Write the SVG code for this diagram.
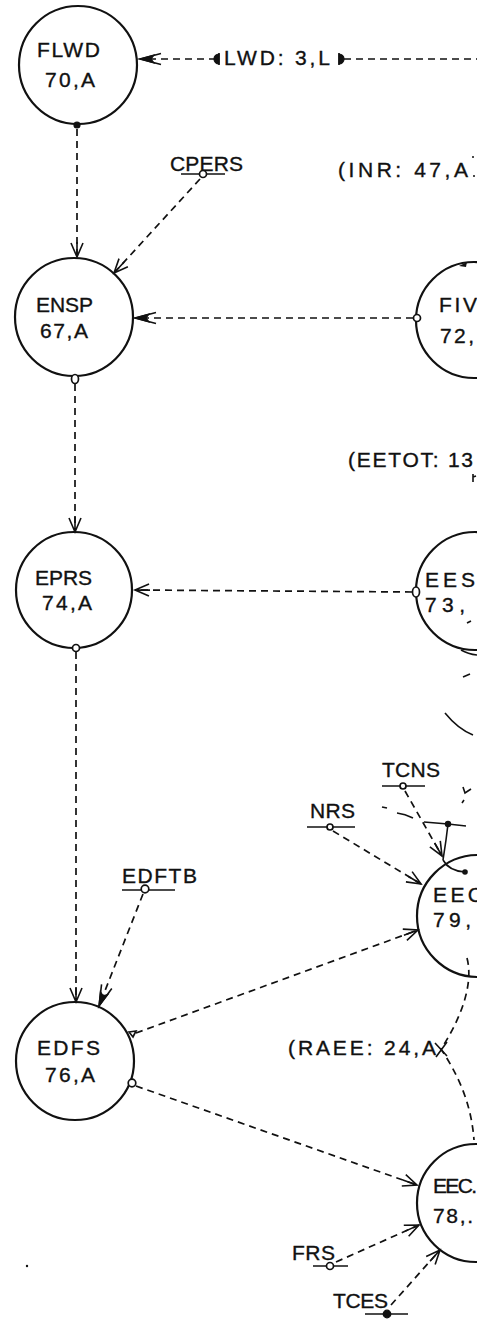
<svg xmlns="http://www.w3.org/2000/svg" width="482" height="1322" viewBox="0 0 482 1322">
  <style>
    .node { fill: none; stroke: #111; stroke-width: 2.2; }
    .t { font-family: "Liberation Sans", Arial, sans-serif; font-size: 21px; fill: #111; stroke: #111; stroke-width: 0.35; }
    .c { fill: none; stroke: #111; stroke-width: 1.7; stroke-dasharray: 7 5; }
    .s { fill: none; stroke: #111; stroke-width: 1.6; }
    .ul { stroke: #111; stroke-width: 1.6; }
    .po { fill: #fff; stroke: #111; stroke-width: 1.7; }
    .pf { fill: #111; stroke: #111; stroke-width: 1.2; }
  </style>
  <defs>
    <marker id="open" markerUnits="userSpaceOnUse" markerWidth="20" markerHeight="20" viewBox="-16 -10 20 20" refX="0" refY="0" orient="auto" overflow="visible">
      <path d="M-14,-6 L0,0 L-14,6 M-15,0 L0,0" fill="none" stroke="#111" stroke-width="1.6"/>
    </marker>
    <marker id="bold" markerUnits="userSpaceOnUse" markerWidth="26" markerHeight="20" viewBox="-24 -10 26 20" refX="0" refY="0" orient="auto" overflow="visible">
      <path d="M0,0 L-14,-4 L-11,0 L-14,4 Z" fill="#111" stroke="#111" stroke-width="1.2"/>
      <path d="M-21,-5.5 L0,0 L-21,5.5" fill="none" stroke="#111" stroke-width="1.6"/>
    </marker>
    <clipPath id="sheet">
      <rect x="0" y="0" width="477" height="1322"/>
    </clipPath>
  </defs>
  <rect width="482" height="1322" fill="#fff"/>

  <g clip-path="url(#sheet)">
    <!-- connectors -->
    <g id="connectors">
      <!-- LWD label feeding FLWD -->
      <path class="c" d="M216,59 L140,59" marker-end="url(#bold)"/>
      <path class="c" d="M344,59 L477,59"/>
      <path class="pf" d="M219,54 A5,5 0 0 0 219,64 Z"/>
      <path class="ul" d="M219,53 L219,65"/>
      <path class="pf" d="M339,54 A5,5 0 0 1 339,64 Z"/>
      <path class="ul" d="M339,53 L339,65"/>

      <!-- FLWD to ENSP -->
      <path class="c" d="M77,129 L77,257" marker-end="url(#open)"/>
      <!-- CPERS to ENSP -->
      <path class="c" d="M200,179 L114,273" marker-end="url(#open)"/>
      <!-- FIV to ENSP -->
      <path class="c" d="M413,318 L135,318" marker-end="url(#bold)"/>
      <!-- ENSP to EPRS -->
      <path class="c" d="M75,384 L75,532" marker-end="url(#open)"/>
      <!-- EES to EPRS -->
      <path class="c" d="M412,592 L135,590" marker-end="url(#open)"/>
      <!-- EPRS to EDFS -->
      <path class="c" d="M76,652 L76,1002" marker-end="url(#open)"/>
      <!-- EDFTB to EDFS -->
      <path class="c" d="M143,894 L99,1006" marker-end="url(#bold)"/>
      <!-- EDFS to EEC (79) -->
      <path class="c" d="M136,1033 L418,930" marker-end="url(#open)"/>
      <!-- NRS to EEC (79) -->
      <path class="c" d="M333,831 L421,884" marker-end="url(#open)"/>
      <!-- TCNS to EEC (79) -->
      <path class="c" d="M405,791 L442,856" marker-end="url(#open)"/>
      <!-- EEC (79) through RAEE to EEC (78) -->
      <path class="c" d="M467,958 C474,985 460,1020 441,1049 C456,1072 471,1100 474,1140"/>
      <path class="s" d="M435,1043 L447,1056 M447,1042 L436,1057" stroke-width="1.9"/>
      <!-- EDFS to EEC (78) -->
      <path class="c" d="M136,1086 L417,1185" marker-end="url(#open)"/>
      <!-- FRS to EEC (78) -->
      <path class="c" d="M336,1262 L419,1225" marker-end="url(#open)"/>
      <!-- TCES to EEC (78) -->
      <path class="c" d="M391,1305 L440,1250" marker-end="url(#open)"/>

      <!-- loose strokes round the top of EEC (79) -->
      <path class="s" d="M382,807 L387,808"/>
      <path class="s" d="M397,813 Q405,814 413,818"/>
      <path class="s" d="M424,822 L448,824 L466,826" stroke-width="1.9"/>
      <circle cx="448" cy="824" r="3.2" fill="#111"/>
      <path class="s" d="M448,824 L446,840 L443,860" stroke-width="3"/>
      <path class="s" d="M443,860 Q449,871 465,872" stroke-width="2.4"/>
      <circle cx="465" cy="872" r="2.8" fill="#111"/>
      <path class="s" d="M463,787 L465,793 L471,789 M462,803 L464,800"/>
      <!-- loose strokes below EES -->
      <path class="s" d="M467,623 L471,621"/>
      <path class="s" d="M461,650 Q468,654 477,655"/>
      <path class="s" d="M463,677 L470,674" stroke-width="2"/>
      <path class="s" d="M445,713 Q458,729 473,735"/>
      <!-- mark at top of FIV -->
      <path d="M459,266 L467,262 L466,267 Z" fill="#111"/>
      <!-- small marks at the sheet edge -->
      <path class="s" d="M472,157 L474,157 M473,176 L475,176" stroke-width="1.2"/>
      <path class="s" d="M473,474 L473,482 M473,477 L476,476" stroke-width="1.2"/>
      <circle cx="27" cy="1266" r="1.2" fill="#111"/>
    </g>

    <!-- nodes -->
    <g id="FLWD">
      <circle class="node" cx="78" cy="65" r="59"/>
      <text class="t" x="37" y="57" textLength="63" lengthAdjust="spacing">FLWD</text>
      <text class="t" x="45" y="87" textLength="50" lengthAdjust="spacing">70,A</text>
      <circle class="pf" cx="77" cy="125" r="3"/>
    </g>
    <g id="LWD">
      <text class="t" x="224" y="65" textLength="106" lengthAdjust="spacing">LWD: 3,L</text>
    </g>
    <g id="CPERS">
      <text class="t" x="170" y="171" textLength="73" lengthAdjust="spacing">CPERS</text>
      <line class="ul" x1="181" y1="174" x2="225" y2="174"/>
      <circle class="po" cx="203" cy="174" r="3.5"/>
    </g>
    <g id="INR">
      <text class="t" x="338" y="177" textLength="130" lengthAdjust="spacing">(INR: 47,A</text>
    </g>
    <g id="ENSP">
      <circle class="node" cx="74" cy="317" r="59"/>
      <text class="t" x="36" y="312" textLength="57" lengthAdjust="spacing">ENSP</text>
      <text class="t" x="40" y="338" textLength="48" lengthAdjust="spacing">67,A</text>
      <ellipse class="po" cx="75" cy="379" rx="3.5" ry="4.5"/>
    </g>
    <g id="FIV">
      <circle class="node" cx="474" cy="320" r="58"/>
      <text class="t" x="439" y="312" textLength="38" lengthAdjust="spacing">FIV</text>
      <text class="t" x="440" y="343" textLength="34" lengthAdjust="spacing">72,</text>
      <circle class="po" cx="417" cy="318" r="3.5"/>
    </g>
    <g id="EETOT">
      <text class="t" x="348" y="467" textLength="125" lengthAdjust="spacing">(EETOT: 13</text>
    </g>
    <g id="EPRS">
      <circle class="node" cx="74" cy="590" r="58"/>
      <text class="t" x="35" y="585" textLength="57" lengthAdjust="spacing">EPRS</text>
      <text class="t" x="42" y="610" textLength="50" lengthAdjust="spacing">74,A</text>
      <circle class="po" cx="76" cy="648" r="3.5"/>
    </g>
    <g id="EES">
      <circle class="node" cx="475" cy="591" r="59"/>
      <text class="t" x="425" y="587" textLength="50" lengthAdjust="spacing">EES</text>
      <text class="t" x="425" y="612" textLength="40" lengthAdjust="spacing">73,</text>
      <ellipse class="po" cx="416" cy="592" rx="3.5" ry="5"/>
    </g>
    <g id="TCNS">
      <text class="t" x="382" y="777" textLength="58" lengthAdjust="spacing">TCNS</text>
      <line class="ul" x1="382" y1="786" x2="425" y2="786"/>
      <circle class="po" cx="403" cy="786" r="3"/>
    </g>
    <g id="NRS">
      <text class="t" x="310" y="818" textLength="45" lengthAdjust="spacing">NRS</text>
      <line class="ul" x1="307" y1="827" x2="355" y2="827"/>
      <circle class="po" cx="330" cy="827" r="3"/>
    </g>
    <g id="EDFTB">
      <text class="t" x="122" y="883" textLength="75" lengthAdjust="spacing">EDFTB</text>
      <line class="ul" x1="122" y1="890" x2="175" y2="890"/>
      <circle class="po" cx="145" cy="889" r="3.8"/>
    </g>
    <g id="EEC79">
      <circle class="node" cx="478" cy="916" r="61"/>
      <text class="t" x="433" y="902" textLength="50" lengthAdjust="spacing">EEC</text>
      <text class="t" x="433" y="927" textLength="38" lengthAdjust="spacing">79,</text>
    </g>
    <g id="EDFS">
      <circle class="node" cx="75" cy="1061" r="59"/>
      <text class="t" x="37" y="1055" textLength="63" lengthAdjust="spacing">EDFS</text>
      <text class="t" x="45" y="1082" textLength="50" lengthAdjust="spacing">76,A</text>
      <path class="po" d="M129,1032 L136,1031 L133,1037 Z"/>
      <circle class="po" cx="132" cy="1083" r="3.8"/>
    </g>
    <g id="RAEE">
      <text class="t" x="288" y="1055" textLength="148" lengthAdjust="spacing">(RAEE: 24,A</text>
    </g>
    <g id="EEC78">
      <circle class="node" cx="476" cy="1203" r="59"/>
      <text class="t" x="433" y="1193" textLength="44" lengthAdjust="spacing">EEC.</text>
      <text class="t" x="433" y="1223" textLength="40" lengthAdjust="spacing">78,.</text>
    </g>
    <g id="FRS">
      <text class="t" x="292" y="1260" textLength="43" lengthAdjust="spacing">FRS</text>
      <line class="ul" x1="313" y1="1266" x2="348" y2="1266"/>
      <circle class="po" cx="330" cy="1266" r="3.5"/>
    </g>
    <g id="TCES">
      <text class="t" x="333" y="1308" textLength="55" lengthAdjust="spacing">TCES</text>
      <line class="ul" x1="365" y1="1314" x2="408" y2="1314"/>
      <circle class="pf" cx="387" cy="1314" r="3.8"/>
    </g>
  </g>
</svg>
